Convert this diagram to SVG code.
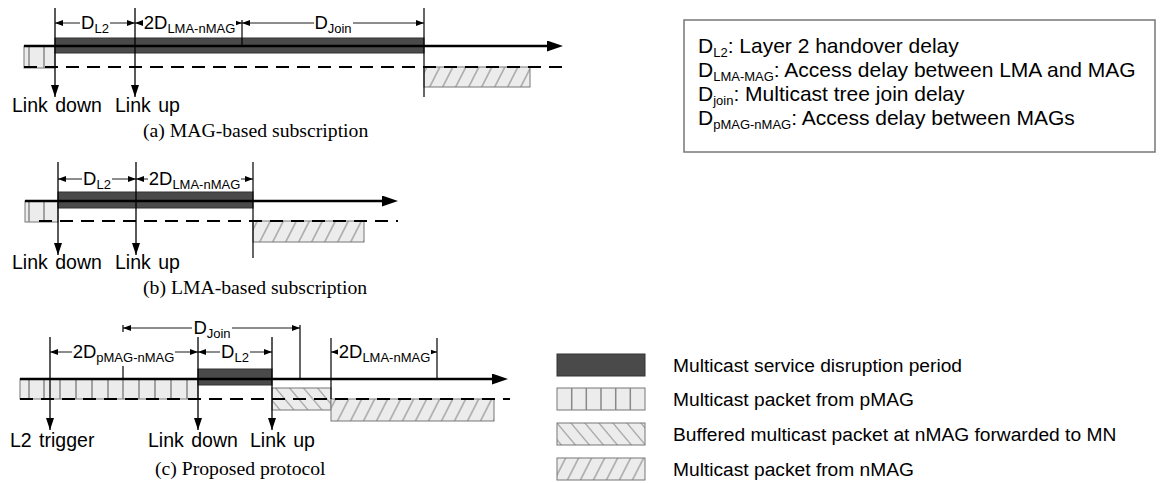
<svg xmlns="http://www.w3.org/2000/svg" width="1167" height="483" viewBox="0 0 1167 483">
<style>
.t{font-family:"Liberation Sans",Arial,sans-serif;fill:#000}
.lbl{font-size:19.5px;word-spacing:2px}
.dl{font-size:18.5px}
.sub{font-size:13px}
.cap{font-family:"Liberation Serif","Times New Roman",serif;font-size:19.7px;fill:#000}
.leg{font-size:21px}
.leg2{font-size:19.2px}
.axis{stroke:#000;stroke-width:2.5;fill:none}
.dash{stroke:#000;stroke-width:2;stroke-dasharray:13 8;fill:none}
.ev{stroke:#000;stroke-width:1.3;fill:none}
.vl{stroke:#000;stroke-width:1.2;fill:none}
.dim{stroke:#000;stroke-width:0.9;fill:none}
.dark{fill:#4a4a4a;stroke:#333;stroke-width:1}
.pm{fill:#ececec;stroke:#777;stroke-width:1}
.stripe{stroke:#888;stroke-width:1.5;fill:none}
.buf{fill:url(#hb);stroke:#777;stroke-width:1}
.nm{fill:url(#hf);stroke:#777;stroke-width:1}
.bg{fill:#fff}
.box{fill:#fff;stroke:#777;stroke-width:1.5}
</style>
<defs>
<marker id="ax" viewBox="0 0 16 11" refX="6" refY="5.5" markerWidth="16" markerHeight="11" markerUnits="userSpaceOnUse" orient="auto"><path d="M0,0 L16,5.5 L0,11 z" fill="#000"/></marker>
<marker id="ea" viewBox="0 0 12 8" refX="12" refY="4" markerWidth="12" markerHeight="8" markerUnits="userSpaceOnUse" orient="auto"><path d="M0,0 L12,4 L0,8 z" fill="#000"/></marker>
<marker id="da" viewBox="0 0 8 6" refX="8" refY="3" markerWidth="8" markerHeight="6" markerUnits="userSpaceOnUse" orient="auto-start-reverse"><path d="M0,0 L8,3 L0,6 z" fill="#000"/></marker>
<pattern id="hf" patternUnits="userSpaceOnUse" width="13" height="20" patternTransform="skewX(-27)"><rect width="13" height="20" fill="#ececec"/><line x1="6" y1="0" x2="6" y2="20" stroke="#8a8a8a" stroke-width="1.2"/></pattern>
<pattern id="hb" patternUnits="userSpaceOnUse" width="14" height="20" patternTransform="skewX(40)"><rect width="14" height="20" fill="#ececec"/><line x1="6" y1="0" x2="6" y2="20" stroke="#8a8a8a" stroke-width="1.2"/></pattern>
</defs>

<!-- Panel (a) -->
<g id="panel-a">
  <rect class="pm" x="24" y="46" width="31" height="22"/>
  <path class="stripe" d="M29,46V68 M44,46V68"/>
  <rect class="nm" x="424" y="67" width="106" height="20"/>
  <rect class="dark" x="55" y="38" width="369" height="15"/>
  <line class="dash" x1="24" y1="67" x2="563" y2="67"/>
  <line class="axis" x1="24" y1="46" x2="553" y2="46" marker-end="url(#ax)"/>
  <line class="vl" x1="242" y1="20" x2="242" y2="46"/>
  <line class="vl" x1="424" y1="8" x2="424" y2="97"/>
  <line class="ev" x1="55" y1="8" x2="55" y2="97" marker-end="url(#ea)"/>
  <line class="ev" x1="135" y1="8" x2="135" y2="97" marker-end="url(#ea)"/>
  <line class="dim" x1="55" y1="23" x2="135" y2="23" marker-start="url(#da)" marker-end="url(#da)"/>
  <line class="dim" x1="135" y1="23" x2="242" y2="23" marker-start="url(#da)" marker-end="url(#da)"/>
  <line class="dim" x1="242" y1="23" x2="424" y2="23" marker-start="url(#da)" marker-end="url(#da)"/>
  <rect class="bg" x="80" y="15" width="30" height="16"/>
  <rect class="bg" x="143" y="15" width="93" height="16"/>
  <rect class="bg" x="314" y="15" width="39" height="16"/>
  <text class="t dl" x="95" y="29" text-anchor="middle">D<tspan class="sub" dy="4">L2</tspan></text>
  <text class="t dl" x="189.5" y="29" text-anchor="middle">2D<tspan class="sub" dy="4">LMA-nMAG</tspan></text>
  <text class="t dl" x="333" y="29" text-anchor="middle">D<tspan class="sub" dy="4">Join</tspan></text>
  <text class="t lbl" x="12" y="112">Link down</text>
  <text class="t lbl" x="115" y="112">Link up</text>
  <text class="cap" x="143" y="137">(a) MAG-based subscription</text>
</g>

<!-- Panel (b) -->
<g id="panel-b">
  <rect class="pm" x="25" y="201" width="33" height="21"/>
  <path class="stripe" d="M29,201V222 M44,201V222"/>
  <rect class="nm" x="253" y="221" width="111" height="21"/>
  <rect class="dark" x="58" y="192" width="195" height="16"/>
  <line class="dash" x1="39" y1="221" x2="398" y2="221"/>
  <line class="axis" x1="25" y1="201" x2="388" y2="201" marker-end="url(#ax)"/>
  <line class="vl" x1="253" y1="162" x2="253" y2="258"/>
  <line class="ev" x1="58" y1="162" x2="58" y2="255" marker-end="url(#ea)"/>
  <line class="ev" x1="136" y1="162" x2="136" y2="255" marker-end="url(#ea)"/>
  <line class="dim" x1="58" y1="179" x2="136" y2="179" marker-start="url(#da)" marker-end="url(#da)"/>
  <line class="dim" x1="136" y1="179" x2="253" y2="179" marker-start="url(#da)" marker-end="url(#da)"/>
  <rect class="bg" x="82" y="171" width="30" height="16"/>
  <rect class="bg" x="148" y="171" width="93" height="16"/>
  <text class="t dl" x="97" y="185" text-anchor="middle">D<tspan class="sub" dy="4">L2</tspan></text>
  <text class="t dl" x="194.5" y="185" text-anchor="middle">2D<tspan class="sub" dy="4">LMA-nMAG</tspan></text>
  <text class="t lbl" x="12" y="269">Link down</text>
  <text class="t lbl" x="115" y="269">Link up</text>
  <text class="cap" x="143" y="294">(b) LMA-based subscription</text>
</g>

<!-- Panel (c) -->
<g id="panel-c">
  <rect class="pm" x="20" y="379" width="178" height="20"/>
  <path class="stripe" d="M29,379V399 M44,379V399 M60,379V399 M76,379V399 M92,379V399 M108,379V399 M123,379V399 M139,379V399 M155,379V399 M171,379V399 M187,379V399"/>
  <rect class="buf" x="272" y="388" width="59" height="22"/>
  <rect class="nm" x="331" y="399" width="163" height="22"/>
  <rect class="dark" x="198" y="369" width="74" height="16"/>
  <line class="dash" x1="20" y1="399" x2="510" y2="399"/>
  <line class="axis" x1="20" y1="379" x2="498" y2="379" marker-end="url(#ax)"/>
  <line class="vl" x1="123" y1="325" x2="123" y2="332"/>
  <line class="vl" x1="123" y1="366" x2="123" y2="379"/>
  <line class="vl" x1="300" y1="325" x2="300" y2="379"/>
  <line class="vl" x1="331" y1="338" x2="331" y2="399"/>
  <line class="vl" x1="437" y1="338" x2="437" y2="379"/>
  <line class="ev" x1="50" y1="337" x2="50" y2="430" marker-end="url(#ea)"/>
  <line class="ev" x1="198" y1="337" x2="198" y2="430" marker-end="url(#ea)"/>
  <line class="ev" x1="272" y1="337" x2="272" y2="430" marker-end="url(#ea)"/>
  <line class="dim" x1="123" y1="328" x2="300" y2="328" marker-start="url(#da)" marker-end="url(#da)"/>
  <line class="dim" x1="50" y1="352" x2="198" y2="352" marker-start="url(#da)" marker-end="url(#da)"/>
  <line class="dim" x1="198" y1="352" x2="272" y2="352" marker-start="url(#da)" marker-end="url(#da)"/>
  <line class="dim" x1="331" y1="352" x2="437" y2="352" marker-start="url(#da)" marker-end="url(#da)"/>
  <rect class="bg" x="192" y="320" width="40" height="16"/>
  <rect class="bg" x="72" y="344" width="103" height="16"/>
  <rect class="bg" x="220" y="344" width="30" height="16"/>
  <rect class="bg" x="338" y="344" width="93" height="16"/>
  <text class="t dl" x="212" y="334" text-anchor="middle">D<tspan class="sub" dy="4">Join</tspan></text>
  <text class="t dl" x="123.5" y="358" text-anchor="middle">2D<tspan class="sub" dy="4">pMAG-nMAG</tspan></text>
  <text class="t dl" x="235" y="358" text-anchor="middle">D<tspan class="sub" dy="4">L2</tspan></text>
  <text class="t dl" x="384.5" y="358" text-anchor="middle">2D<tspan class="sub" dy="4">LMA-nMAG</tspan></text>
  <text class="t lbl" x="10" y="447">L2 trigger</text>
  <text class="t lbl" x="148" y="447">Link down</text>
  <text class="t lbl" x="250" y="447">Link up</text>
  <text class="cap" x="155" y="475">(c) Proposed protocol</text>
</g>

<!-- Definitions legend -->
<g id="legend-delays">
  <rect class="box" x="684" y="20" width="471" height="132"/>
  <text class="t leg" x="698" y="53">D<tspan class="sub" dy="4" font-size="14.5px">L2</tspan><tspan dy="-4">: Layer 2 handover delay</tspan></text>
  <text class="t leg" x="698" y="77">D<tspan class="sub" dy="4" font-size="14.5px">LMA-MAG</tspan><tspan dy="-4">: Access delay between LMA and MAG</tspan></text>
  <text class="t leg" x="698" y="101">D<tspan class="sub" dy="4" font-size="14.5px">join</tspan><tspan dy="-4">: Multicast tree join delay</tspan></text>
  <text class="t leg" x="698" y="125">D<tspan class="sub" dy="4" font-size="14.5px">pMAG-nMAG</tspan><tspan dy="-4">: Access delay between MAGs</tspan></text>
</g>

<!-- Pattern legend -->
<g id="legend-patterns">
  <rect class="dark" x="557" y="354" width="88" height="22"/>
  <rect class="pm" x="557" y="388" width="88" height="22"/>
  <path class="stripe" d="M571.7,388V410 M586.3,388V410 M601,388V410 M615.7,388V410 M630.3,388V410"/>
  <rect class="buf" x="557" y="423" width="88" height="22"/>
  <rect class="nm" x="557" y="458" width="88" height="22"/>
  <text class="t leg2" x="673" y="372">Multicast service disruption period</text>
  <text class="t leg2" x="673" y="406">Multicast packet from pMAG</text>
  <text class="t leg2" x="673" y="441">Buffered multicast packet at nMAG forwarded to MN</text>
  <text class="t leg2" x="673" y="476">Multicast packet from nMAG</text>
</g>
</svg>
